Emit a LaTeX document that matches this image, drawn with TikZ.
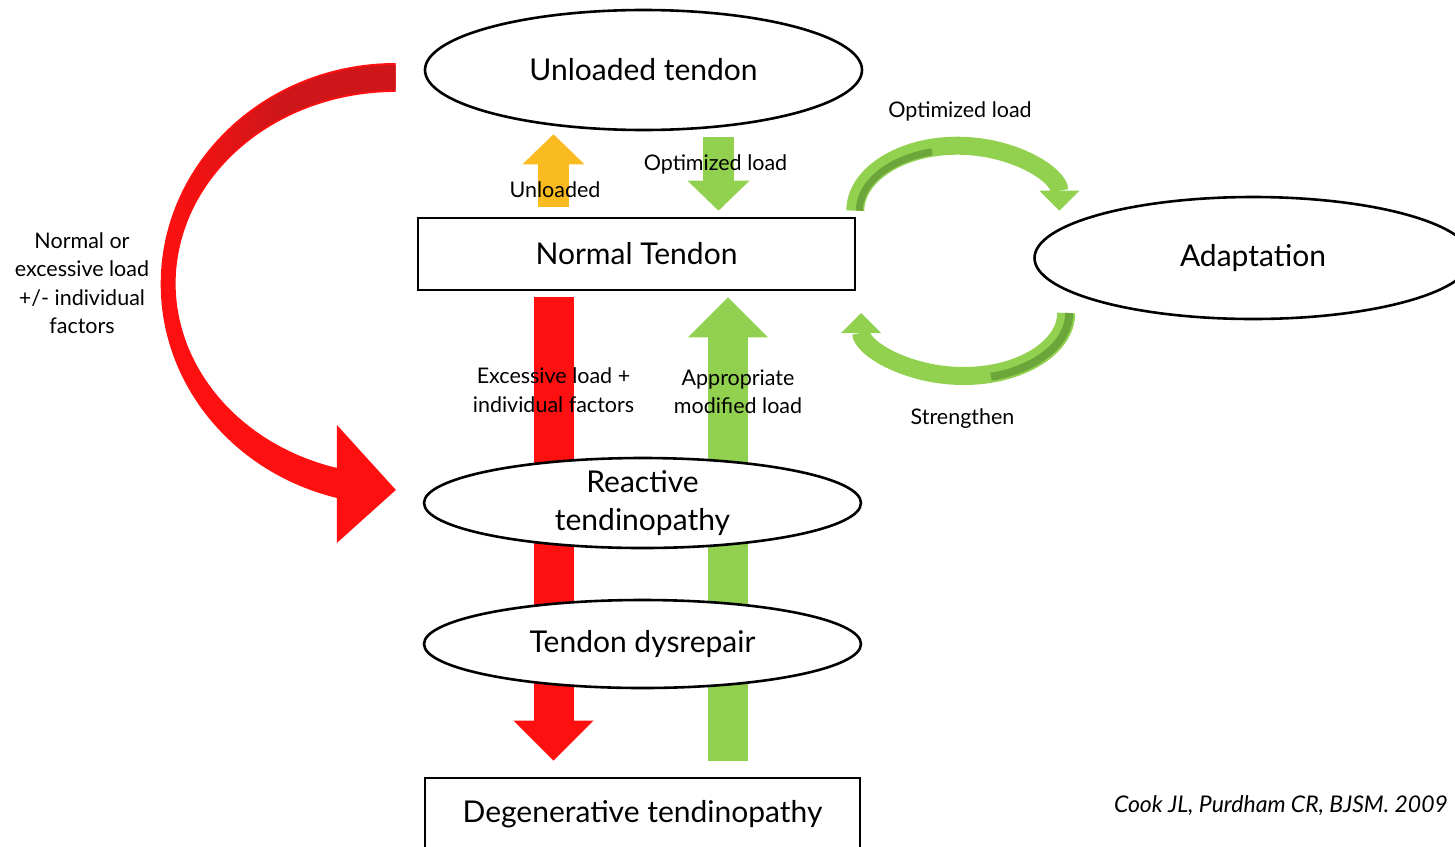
\documentclass[tikz,border=0pt]{standalone}
\usepackage{fontspec}
\setmainfont{Lato}
\usepackage{xcolor}
\usepackage{tikz}
\usetikzlibrary{arrows.meta,shapes.geometric}
\pgfdeclarelayer{background}
\pgfsetlayers{background,main}

\definecolor{loadred}{RGB}{254,16,16}
\definecolor{loaddarkred}{RGB}{206,22,26}
\definecolor{loadgreen}{RGB}{146,208,80}
\definecolor{loaddarkgreen}{RGB}{108,166,58}
\definecolor{loadorange}{RGB}{250,187,32}

\tikzset{
  stagebox/.style={draw, line width=2.6pt, fill=white, rectangle, minimum width=437pt,
    minimum height=72pt, inner sep=0pt, font=\fontsize{30}{36}\selectfont},
  stageoval/.style={draw, line width=2.6pt, fill=white, ellipse, minimum width=437pt,
    inner sep=0pt, align=center, font=\fontsize{30}{38}\selectfont},
  lbl/.style={inner sep=0pt, align=center, font=\fontsize{21.5}{28.5}\selectfont},
  thinarrow/.style={line width=31pt, -{Triangle[length=30pt, width=62pt, line width=0pt]}},
  fatarrow/.style={line width=40pt, -{Triangle[length=40pt, width=80pt, line width=0pt]}},
  curvearrow/.style={loadgreen, line width=18pt, -{Triangle[length=20pt, width=40pt, line width=0pt]}}
}

\begin{document}
\begin{tikzpicture}[x=1pt, y=-1pt]
\useasboundingbox (0,0) rectangle (1455,846);
\clip (0,0) rectangle (1455,846);

% stages
\node[stageoval, minimum height=120pt] (unl) at (643.5,70) {Unloaded tendon};
\node[stagebox] (nrm) at (636.5,254) {Normal Tendon};
\node[stageoval, minimum height=122pt] (adp) at (1253,258) {Adaptation};
\node[stageoval, minimum height=90pt, inner ysep=-6pt] (rct) at (642.5,503) {Reactive\\tendinopathy};
\node[stageoval, minimum height=88pt] (dys) at (642.5,644) {Tendon dysrepair};
\node[stagebox, minimum width=435pt] (dgn) at (642.5,814) {Degenerative tendinopathy};

% straight arrows, behind the stages
\begin{pgfonlayer}{background}
\draw[thinarrow, loadorange, shorten <=10pt, shorten >=3pt] (553.5,0 |- nrm.north) -- (553.5,0 |- unl.south);
\draw[thinarrow, loadgreen, shorten <=6pt, shorten >=6pt] (718.5,0 |- unl.south) -- (718.5,0 |- nrm.north);
\draw[fatarrow, loadred, shorten <=6pt, shorten >=16pt] (553.5,0 |- nrm.south) -- (553.5,0 |- dgn.north);
\draw[fatarrow, loadgreen, shorten <=16pt, shorten >=6pt] (728,0 |- dgn.north) -- (728,0 |- nrm.south);
\end{pgfonlayer}

% big red arrow from unloaded to reactive
\fill[loadred] ([shift={(-28,-7)}]unl.west) arc[start angle=270, end angle=104.5, x radius=235, y radius=221]
  -- ++(0,45) -- ++(59,-53) -- ++(-59,-65) -- ++(0,43)
  arc[start angle=105.5, end angle=270, x radius=220, y radius=191.5] -- cycle;
\shade[left color=loadred, right color=loaddarkred, middle color=loaddarkred]
  ([shift={(-28,-5)}]unl.west) arc[start angle=270, end angle=185, x radius=233, y radius=219]
  -- ++(10.96,1.72) arc[start angle=185, end angle=270, x radius=222, y radius=193.5] -- cycle;

% loop to adaptation and back
\draw[curvearrow] ([shift={(-1,-6)}]nrm.north east) arc[start angle=180, end angle=360, x radius=102, y radius=65];
\draw[loaddarkgreen, line width=7pt] ([shift={(3,-6)}]nrm.north east) arc[start angle=180, end angle=255, x radius=98, y radius=61];
\draw[curvearrow] ([shift={(33,55)}]adp.west) arc[start angle=0, end angle=180, x radius=102.5, y radius=63];
\draw[loaddarkgreen, line width=8pt] ([shift={(36,55)}]adp.west) arc[start angle=0, end angle=75, x radius=105.5, y radius=66];

% labels
\node[lbl] (lnormal) at (82,283) {Normal or\\excessive load\\+/- individual\\factors};
\node[lbl] (lunl) at (555,190) {Unloaded};
\node[lbl] (lopt) at (715.5,164) {Optimized load};
\node[lbl] (lexc) at (553.5,390) {Excessive load +\\individual factors};
\node[lbl] (lapp) at (738,391.5) {Appropriate\\modified load};
\node[lbl] (loptad) at (960,111) {Optimized load};
\node[lbl] (lstr) at (962.5,418.5) {Strengthen};
\node[anchor=east, inner sep=0pt, font=\fontsize{23}{28}\selectfont\itshape] (cite) at (1448,806) {Cook JL, Purdham CR, BJSM. 2009};
\end{tikzpicture}
\end{document}
